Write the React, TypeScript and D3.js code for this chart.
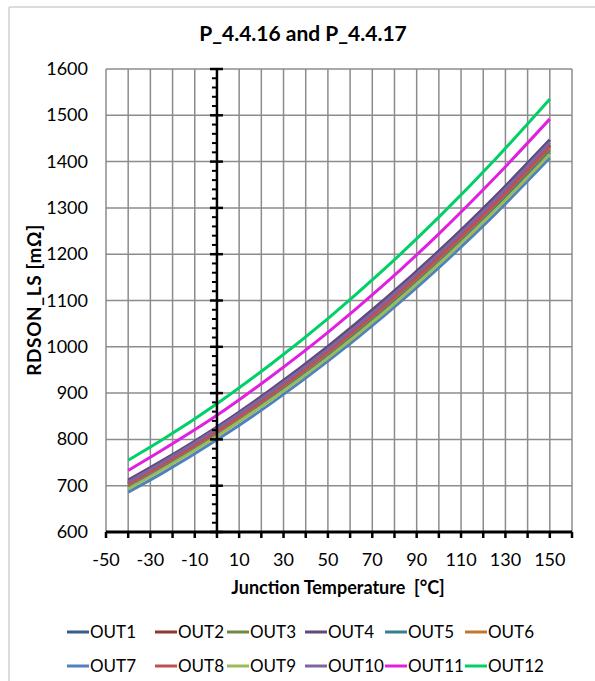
import React from "react";
import * as d3 from "d3";

const temps = [-40, -25, 0, 25, 50, 75, 100, 125, 150];
const seriesNames = ["OUT1","OUT2","OUT3","OUT4","OUT5","OUT6","OUT7","OUT8","OUT9","OUT10","OUT11","OUT12"];
const seriesColors = ["#385D8A","#8C3836","#71893F","#5E4B7C","#357D91","#C0772F","#4F81BD","#C0504D","#9BBB59","#8064A2","#E020E0","#00D068"];
const out1 = [706, 746, 820, 903, 992, 1091, 1197, 1312, 1436];
const out2 = [705, 745, 819, 902, 991, 1089, 1196, 1311, 1435];
const out3 = [695, 736, 809, 890, 979, 1076, 1183, 1296, 1420];
const out4 = [712, 753, 827, 910, 1001, 1100, 1207, 1323, 1447];
const out5 = [698, 739, 813, 894, 983, 1081, 1187, 1301, 1426];
const out6 = [702, 743, 816, 898, 987, 1085, 1191, 1306, 1430];
const out7 = [686, 726, 799, 880, 969, 1066, 1171, 1285, 1408];
const out8 = [703, 744, 817, 899, 989, 1087, 1193, 1308, 1432];
const out9 = [693, 734, 807, 888, 976, 1073, 1179, 1293, 1416];
const out10 = [708, 749, 823, 905, 995, 1094, 1201, 1316, 1441];
const out11 = [733, 776, 852, 938, 1031, 1133, 1244, 1364, 1492];
const out12 = [755, 798, 877, 965, 1061, 1166, 1280, 1403, 1535];
const seriesValues = [out1, out2, out3, out4, out5, out6, out7, out8, out9, out10, out11, out12];

const xTickLabels = [-50, -30, -10, 10, 30, 50, 70, 90, 110, 130, 150];
const yTickLabels = [600, 700, 800, 900, 1000, 1100, 1200, 1300, 1400, 1500, 1600];
const title = "P_4.4.16 and P_4.4.17";
const xTitle = "Junction Temperature  [°C]";
const yTitle = "RDSON_LS [mΩ]";

const FONT = "Lato, 'Open Sans', sans-serif";

export default function App() {
  const W = 595, H = 681;
  const L = 106, R = 572, T = 69, B = 532;
  const x = d3.scaleLinear().domain([-50, 160]).range([L, R]);
  const y = d3.scaleLinear().domain([600, 1600]).range([B, T]);
  const xGrid = d3.range(-50, 161, 10);
  const yGrid = d3.range(600, 1601, 100);
  const yMinor = d3.range(600, 1601, 20).filter((v) => v % 100 !== 0);
  const line = d3.line<number>().x((_, i) => x(temps[i])).y((v) => y(v)).curve(d3.curveMonotoneX);
  const gridColor = "#8C8C8C";
  const legendCols = [67, 155, 227, 305, 385, 465];
  const legendRows = [632, 666];

  return (
    <svg width={W} height={H} style={{ position: "absolute", left: 0, top: 0, background: "#fff" }} fontFamily={FONT}>
      <rect x={0} y={0} width={W} height={H} fill="#fff" />
      <line x1={9} y1={7} x2={9} y2={H} stroke="#D0D0D0" strokeWidth={1.5} />
      <line x1={9} y1={7} x2={W} y2={7} stroke="#D0D0D0" strokeWidth={1.5} />
      <text x={303} y={41} textAnchor="middle" fontSize={21} fontWeight="bold" fill="#000">{title}</text>

      {xGrid.map((v) => (
        <line key={"xg" + v} x1={x(v)} x2={x(v)} y1={T} y2={B} stroke={gridColor} strokeWidth={1.5} />
      ))}
      {yGrid.map((v) => (
        <line key={"yg" + v} x1={L} x2={R} y1={y(v)} y2={y(v)} stroke={gridColor} strokeWidth={1.5} />
      ))}

      {seriesValues.map((vals, i) => (
        <path key={seriesNames[i]} d={line(vals) || ""} fill="none" stroke={seriesColors[i]} strokeWidth={3} strokeLinejoin="round" />
      ))}

      {/* vertical axis at x = 0 */}
      <line x1={x(0)} x2={x(0)} y1={T} y2={B} stroke="#000" strokeWidth={2.5} />
      {yGrid.map((v) => (
        <line key={"ym" + v} x1={x(0) - 7} x2={x(0) + 6} y1={y(v)} y2={y(v)} stroke="#000" strokeWidth={2.5} />
      ))}
      {yMinor.map((v) => (
        <line key={"yn" + v} x1={x(0) - 5} x2={x(0)} y1={y(v)} y2={y(v)} stroke="#000" strokeWidth={2} />
      ))}

      {/* horizontal axis */}
      <line x1={L} x2={R} y1={B} y2={B} stroke="#000" strokeWidth={3} />
      {xGrid.map((v) => (
        <line key={"xt" + v} x1={x(v)} x2={x(v)} y1={B} y2={B + 6} stroke="#000" strokeWidth={2.5} />
      ))}

      {xTickLabels.map((v) => (
        <text key={"xl" + v} x={x(v)} y={566} textAnchor="middle" fontSize={18} fill="#000">{v}</text>
      ))}
      {yTickLabels.map((v) => (
        <text key={"yl" + v} x={88} y={y(v) + 6} textAnchor="end" fontSize={18} fill="#000">{v}</text>
      ))}

      <text x={338} y={594} textAnchor="middle" fontSize={18} fontWeight="bold" fill="#000" style={{ whiteSpace: "pre" }}>{xTitle}</text>
      <text transform={`translate(41,300) rotate(-90)`} textAnchor="middle" fontSize={19} letterSpacing={0.6} fontWeight="bold" fill="#000">{yTitle}</text>

      {seriesNames.map((name, i) => {
        const cx = legendCols[i % 6];
        const cy = legendRows[Math.floor(i / 6)];
        return (
          <g key={"lg" + name}>
            <line x1={cx} x2={cx + 22} y1={cy} y2={cy} stroke={seriesColors[i]} strokeWidth={3} />
            <text x={cx + 23} y={cy + 6} fontSize={17} fill="#000">{name}</text>
          </g>
        );
      })}
    </svg>
  );
}
